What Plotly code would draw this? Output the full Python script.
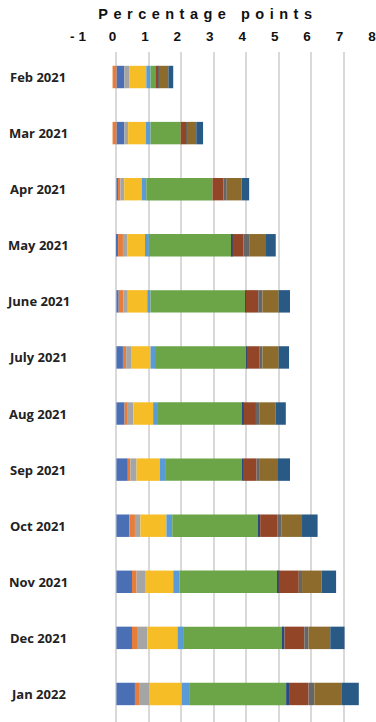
import plotly.graph_objects as go

# Months shown on the category axis (top to bottom)
months = ["Feb 2021", "Mar 2021", "Apr 2021", "May 2021", "June 2021", "July 2021",
          "Aug 2021", "Sep 2021", "Oct 2021", "Nov 2021", "Dec 2021", "Jan 2022"]

# Contribution of each component, in percentage points
comp_01 = [0.24, 0.24, 0.07, 0.05, 0.07, 0.20, 0.25, 0.35, 0.40, 0.48, 0.48, 0.57]
comp_02 = [-0.12, -0.12, 0.05, 0.15, 0.14, 0.10, 0.10, 0.08, 0.17, 0.14, 0.18, 0.15]
comp_03 = [0.15, 0.12, 0.12, 0.13, 0.14, 0.15, 0.17, 0.19, 0.17, 0.26, 0.29, 0.30]
comp_04 = [0.53, 0.54, 0.54, 0.55, 0.60, 0.60, 0.61, 0.72, 0.80, 0.87, 0.93, 0.99]
comp_05 = [0.13, 0.15, 0.14, 0.12, 0.10, 0.14, 0.15, 0.16, 0.18, 0.20, 0.20, 0.23]
comp_06 = [0.15, 0.93, 2.04, 2.56, 2.92, 2.81, 2.62, 2.37, 2.66, 3.00, 3.05, 2.99]
comp_07 = [0.00, 0.00, 0.00, 0.02, 0.02, 0.02, 0.02, 0.03, 0.05, 0.05, 0.05, 0.09]
comp_08 = [0.09, 0.17, 0.34, 0.33, 0.38, 0.38, 0.38, 0.42, 0.54, 0.62, 0.61, 0.60]
comp_09 = [0.02, 0.02, 0.10, 0.20, 0.13, 0.10, 0.10, 0.10, 0.11, 0.10, 0.13, 0.18]
comp_10 = [0.29, 0.29, 0.46, 0.50, 0.50, 0.50, 0.50, 0.56, 0.64, 0.60, 0.67, 0.83]
comp_11 = [0.15, 0.21, 0.23, 0.30, 0.35, 0.32, 0.32, 0.37, 0.48, 0.45, 0.44, 0.54]

series = [comp_01, comp_02, comp_03, comp_04, comp_05, comp_06,
          comp_07, comp_08, comp_09, comp_10, comp_11]
colors = ["#4a6fb5", "#e67d3a", "#a5a5a5", "#f7bd26", "#5b9bd5", "#6ba547",
          "#2a4a7f", "#934528", "#666666", "#8c6b2c", "#295985"]

x_ticks = list(range(-1, 9))

fig = go.Figure()
for vals, col in zip(series, colors):
    fig.add_trace(go.Bar(
        x=vals, y=months, orientation="h",
        marker=dict(color=col, line=dict(width=0)),
        showlegend=False, hoverinfo="x+y",
    ))

# Month labels, centred in the left margin
for m in months:
    fig.add_annotation(
        x=-0.1575, xref="paper", y=m, yref="y", text=m, showarrow=False,
        xanchor="center", yanchor="middle",
        font=dict(family="Open Sans", size=13, color="#222222", weight="bold"),
    )

# Axis caption above the tick labels
fig.add_annotation(
    x=0.425, xref="paper", y=1, yref="paper", yanchor="middle", yshift=38,
    text="Percentage points", showarrow=False, xanchor="center",
    font=dict(family="Liberation Sans", size=14.5, color="#111111", weight="bold"),
)

fig.update_layout(
    width=376, height=722,
    margin=dict(l=84, r=0, t=52, b=0),
    barmode="relative", bargap=0.6,
    paper_bgcolor="white", plot_bgcolor="white",
    xaxis=dict(
        side="top", range=[-1, 8], tickvals=x_ticks, ticktext=[str(v) for v in x_ticks],
        showgrid=True, gridcolor="#d9d9d9", gridwidth=1.6, zeroline=False,
        showline=False, ticks="", ticklabelstandoff=7, ticklabelshift=-4,
        ticklabeloverflow="allow",
        tickfont=dict(family="Liberation Sans", size=13.5, color="#111111", weight="bold"),
    ),
    yaxis=dict(
        type="category", categoryorder="array", categoryarray=months,
        range=[11.5, -0.446], showticklabels=False, showgrid=False,
        zeroline=False, showline=False, ticks="",
    ),
)

# Wide letter spacing on the axis caption and the multi-character tick label
post = """
var gd = document.getElementById('{plot_id}');
function spacing(){
  gd.querySelectorAll('.xtick text').forEach(function(t){
    if (t.textContent.length > 1) { t.style.letterSpacing = '4px'; }
  });
  var a = gd.querySelector('.annotation[data-index="%d"] text');
  if (a) { a.style.letterSpacing = '5.5px'; }
}
spacing();
gd.on('plotly_afterplot', spacing);
""" % (len(months))

fig.write_html("out.html", post_script=post)
